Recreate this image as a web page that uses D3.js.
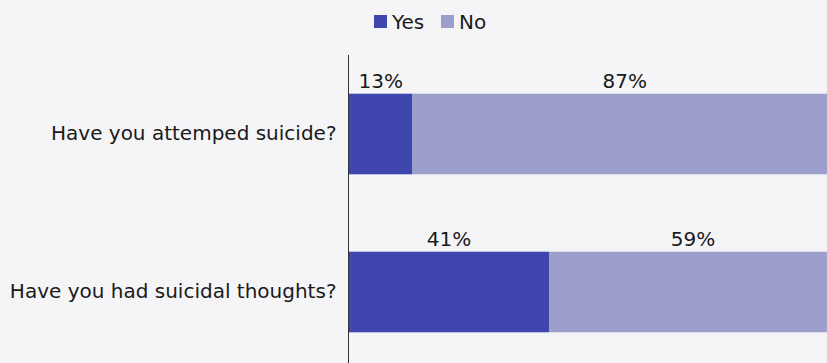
<!DOCTYPE html>
<html>
<head>
<meta charset="utf-8">
<script src="https://cdn.jsdelivr.net/npm/d3@7"></script>
<style>
  html, body { margin: 0; padding: 0; background: #f5f5f7; }
  svg { display: block; font-family: "DejaVu Sans", sans-serif; }
</style>
</head>
<body>
<svg id="chart" width="827" height="363"></svg>
<script>
// Survey questions and answer shares (percent)
const questions = ["Have you attemped suicide?", "Have you had suicidal thoughts?"];
const series = ["Yes", "No"];
const yesValues = [13, 41];
const noValues = [87, 59];
const colors = ["#3f46ad", "#9c9ecb"];

const svg = d3.select("#chart");
const W = 827, H = 363;
const FS = 20;
const margin = { left: 349, right: -10 };

const x = d3.scaleLinear().domain([0, 100]).range([margin.left, W - margin.right]);
const y = d3.scaleBand().domain(questions).range([55, 371]).paddingInner(0.49).paddingOuter(0.245);

svg.append("rect").attr("width", W).attr("height", H).attr("fill", "#f5f5f7");

const rows = questions.map((q, i) => ({ q, vals: [yesValues[i], noValues[i]] }));

const stacked = rows.map(r => {
  let acc = 0;
  return r.vals.map((v, j) => {
    const seg = { q: r.q, key: series[j], x0: acc, x1: acc + v, v };
    acc += v;
    return seg;
  });
});

const g = svg.append("g");
stacked.forEach(segs => {
  g.selectAll(null).data(segs).enter().append("rect")
    .attr("x", d => x(d.x0))
    .attr("y", d => y(d.q))
    .attr("width", d => x(d.x1) - x(d.x0))
    .attr("height", y.bandwidth())
    .attr("fill", d => colors[series.indexOf(d.key)]);
  g.selectAll(null).data(segs).enter().append("text")
    .attr("x", d => (x(d.x0) + x(d.x1)) / 2)
    .attr("y", d => y(d.q) - 6)
    .attr("text-anchor", "middle")
    .attr("font-size", FS)
    .attr("fill", "#1a1a1a")
    .text(d => d.v + "%");
});

// Category axis
const yAxis = d3.axisLeft(y).tickSize(0).tickPadding(12);
const ax = svg.append("g").attr("transform", `translate(${margin.left - 0.5},0)`).call(yAxis);
ax.select(".domain").remove();
ax.selectAll("text").attr("font-size", FS).attr("fill", "#1a1a1a").attr("font-family", "DejaVu Sans, sans-serif");
svg.append("line")
  .attr("x1", margin.left - 0.5).attr("x2", margin.left - 0.5)
  .attr("y1", 55).attr("y2", H)
  .attr("stroke", "#333").attr("stroke-width", 1);

// Legend
const legend = svg.append("g");
const legendX = [374, 441];
series.forEach((s, i) => {
  legend.append("rect").attr("x", legendX[i]).attr("y", 15).attr("width", 13).attr("height", 13).attr("fill", colors[i]);
  legend.append("text").attr("x", legendX[i] + 18).attr("y", 29).attr("font-size", FS).attr("fill", "#1a1a1a").text(s);
});
</script>
</body>
</html>
